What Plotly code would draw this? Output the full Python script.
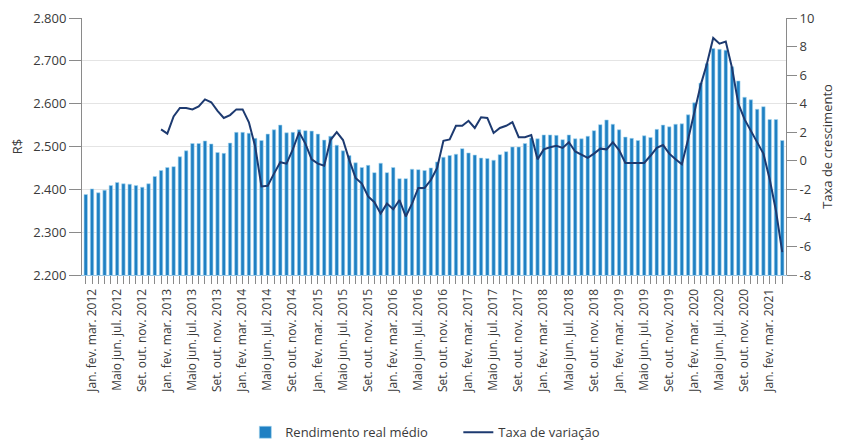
import plotly.graph_objects as go

months = ["jan.", "fev.", "mar.", "abr.", "maio", "jun.", "jul.", "ago.", "set.", "out.", "nov.", "dez."]
# rolling quarters: Jan-fev-mar 2012 ... abr-mai-jun 2021 (112 periods)
categories = []
for k in range(112):
    m = k % 12
    y = 2012 + k // 12
    trio = [months[(m + j) % 12] for j in range(3)]
    trio[0] = trio[0].capitalize()
    categories.append(" ".join(trio) + " " + str(y))

rendimento = [
    2388, 2401, 2392, 2398, 2409, 2416, 2413, 2412, 2409, 2405, 2413, 2430,
    2444, 2451, 2453, 2476, 2490, 2507, 2507, 2513, 2506, 2486, 2484, 2508,
    2533, 2533, 2531, 2519, 2514, 2529, 2539, 2550, 2532, 2533, 2539, 2537,
    2536, 2529, 2515, 2524, 2503, 2490, 2479, 2462, 2451, 2456, 2439, 2461,
    2439, 2451, 2425, 2425, 2447, 2446, 2444, 2450, 2464, 2475, 2479, 2482,
    2495, 2485, 2480, 2473, 2472, 2468, 2481, 2488, 2499, 2499, 2507, 2520,
    2518, 2527, 2527, 2526, 2516, 2527, 2518, 2518, 2524, 2537, 2551, 2562,
    2552, 2539, 2522, 2519, 2514, 2525, 2521, 2540, 2550, 2546, 2552, 2553,
    2574, 2602, 2648, 2694, 2729, 2727, 2725, 2686, 2653, 2615, 2609, 2587,
    2593, 2563, 2563, 2514,
]

taxa = [None] * 12 + [
    2.2, 1.9, 3.1, 3.7, 3.7, 3.6, 3.8, 4.3, 4.1, 3.5, 3.0, 3.2,
    3.6, 3.6, 2.7, 1.0, -1.8, -1.75, -0.9, -0.1, -0.2, 0.8, 2.0, 1.2,
    0.1, -0.2, -0.35, 1.45, 2.0, 1.45, 0.05, -1.2, -1.6, -2.5, -2.9, -3.7,
    -3.0, -3.4, -2.75, -3.9, -3.0, -1.9, -1.9, -1.35, -0.5, 1.4, 1.5, 2.45,
    2.45, 2.8, 2.3, 3.05, 3.0, 1.95, 2.3, 2.45, 2.7, 1.65, 1.65, 1.8,
    0.1, 0.8, 0.95, 1.05, 0.9, 1.3, 0.65, 0.4, 0.2, 0.5, 0.85, 0.8,
    1.3, 0.75, -0.15, -0.15, -0.15, -0.15, 0.35, 0.9, 1.1, 0.5, 0.1, -0.25,
    1.5, 3.3, 5.3, 6.8, 8.6, 8.2, 8.35, 6.5, 4.0, 2.9, 2.1, 1.3,
    0.5, -1.3, -3.5, -6.4,
]

tick_labels = [categories[i] if i % 4 == 0 else "" for i in range(len(categories))]
left_ticks = [2200, 2300, 2400, 2500, 2600, 2700, 2800]
right_ticks = [-8, -6, -4, -2, 0, 2, 4, 6, 8, 10]
right_text = [str(v) for v in right_ticks]

FONT = "Open Sans"
TXT = "#3a3a3a"
AX = "#8a8a8a"

fig = go.Figure()
fig.add_trace(go.Bar(
    x=categories, y=rendimento, name="Rendimento real médio",
    marker=dict(color="#1f80c3", line=dict(color="#a8d6f0", width=0.6)),
    yaxis="y",
))
fig.add_trace(go.Scatter(
    x=categories, y=taxa, name="Taxa de variação", mode="lines",
    line=dict(color="#1d3a70", width=2), yaxis="y2", connectgaps=False,
))

fig.update_layout(
    width=842, height=443,
    margin=dict(l=74, r=64, t=10, b=176, autoexpand=False),
    paper_bgcolor="white", plot_bgcolor="white",
    separators=",.",
    bargap=0.45,
    font=dict(family=FONT, size=12, color=TXT),
    showlegend=True,
    legend=dict(orientation="h", x=0.232, xanchor="left", y=-0.612, yanchor="middle",
                font=dict(size=13, color=TXT), entrywidth=168, entrywidthmode="pixels",
                itemwidth=30, tracegroupgap=0),
    xaxis=dict(
        type="category", tickmode="array", tickvals=categories, ticktext=tick_labels,
        tickangle=-90, ticks="outside", ticklen=8, tickcolor=AX, tickwidth=1,
        showgrid=False, showline=True, linecolor="#9cc9e6", linewidth=1,
        tickfont=dict(size=12, color=TXT), ticklabelshift=6,
        range=[-0.6, len(categories) - 0.4],
    ),
    yaxis=dict(
        range=[2200, 2800], tickvals=left_ticks, tickformat=",.0f",
        ticks="outside", ticklen=12, tickcolor=AX, showline=True, linecolor=AX,
        gridcolor="#e4e4e4", gridwidth=1, zeroline=False,
        tickfont=dict(size=13, color=TXT),
        title=dict(text="R$", font=dict(size=13, color=TXT), standoff=22),
    ),
    yaxis2=dict(
        overlaying="y", side="right", range=[-8, 10],
        tickvals=right_ticks, ticktext=right_text,
        ticks="outside", ticklen=10, tickcolor=AX, showline=True, linecolor=AX,
        showgrid=False, zeroline=False,
        tickfont=dict(size=13, color=TXT),
        title=dict(text="Taxa de crescimento", font=dict(size=13, color=TXT), standoff=9),
    ),
)

fig.write_html("out.html")
